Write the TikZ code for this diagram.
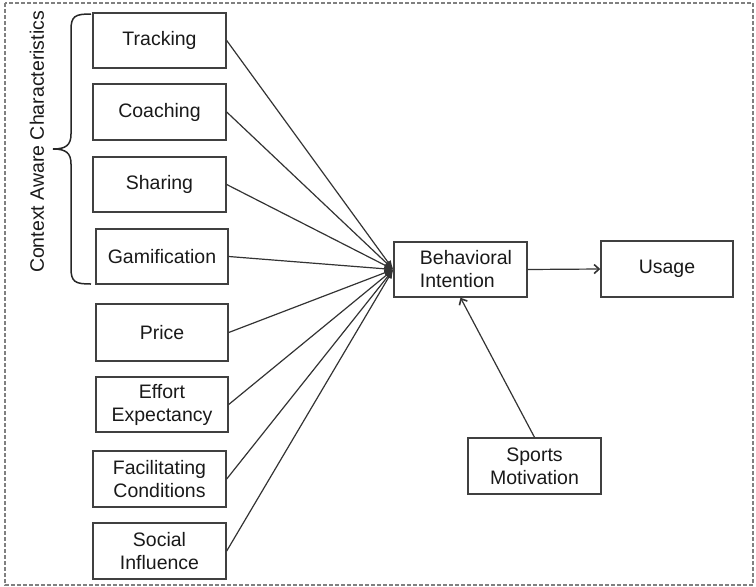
\documentclass[tikz,border=0pt]{standalone}
\usepackage{fontspec}
\setmainfont{Liberation Sans}
\usetikzlibrary{arrows.meta}
\begin{document}
\begin{tikzpicture}[x=1pt,y=-1pt,
  box/.style={draw=black!75,line width=1.4pt,minimum width=133pt,minimum height=55pt,inner sep=0pt,align=center,
    font=\fontsize{19.5}{23}\selectfont,text=black!90},
  conn/.style={draw=black!80,line width=1.2pt},
  tipin/.style={-{Latex[length=9pt,width=7pt]}},
  tipbarb/.style={-{Straight Barb[length=5pt,width=9pt,line width=1.6pt]}}]
\useasboundingbox (0,0) rectangle (756,587);
\draw[gray,line width=1.2pt,dash pattern=on 4pt off 2pt] (5,3) rectangle (753,585);

\node[box] (track) at (159.5,40.5) {Tracking};
\node[box,minimum height=56pt] (coach) at (159.5,112) {Coaching};
\node[box] (share) at (159.5,184.5) {Sharing};
\node[box,minimum width=132pt] (gami) at (162,256.5) {Gamification};
\node[box,minimum width=132pt,minimum height=57pt] (price) at (162,332.5) {Price};
\node[box,minimum width=132pt] (effort) at (162,404.5) {Effort\\Expectancy};
\node[box,minimum height=56pt] (facil) at (159.5,479) {Facilitating\\Conditions};
\node[box,minimum height=56pt] (social) at (159.5,551) {Social\\Influence};
\node[box,align=left] (bi) at (460.5,269.5) {\hspace*{11pt}Behavioral\\\hspace*{11pt}Intention};
\node[box,minimum width=132pt,minimum height=56pt] (usage) at (667,269) {Usage};
\node[box,minimum height=56pt] (sports) at (534.5,466) {Sports\\Motivation};

\node[rotate=90,font=\fontsize{19.5}{23}\selectfont,text=black!90] (cac) at (37,142) {Context Aware Characteristics};

\draw[black!85,line width=1.5pt] (91,14) .. controls (75,14) and (71,16) .. (71,30) -- (71,134)
  .. controls (71,145) and (66,149) .. (53,149)
  .. controls (66,149) and (71,153) .. (71,164) -- (71,268)
  .. controls (71,282) and (75,284) .. (91,284);

\foreach \n in {track,coach,share,gami,price,effort,facil,social}
  \draw[conn,tipin] (\n.east) -- (bi.west);
\draw[conn,tipbarb] (bi.east) -- (usage.west);
\draw[conn,tipbarb] (sports.north) -- (bi.south);
\end{tikzpicture}
\end{document}
